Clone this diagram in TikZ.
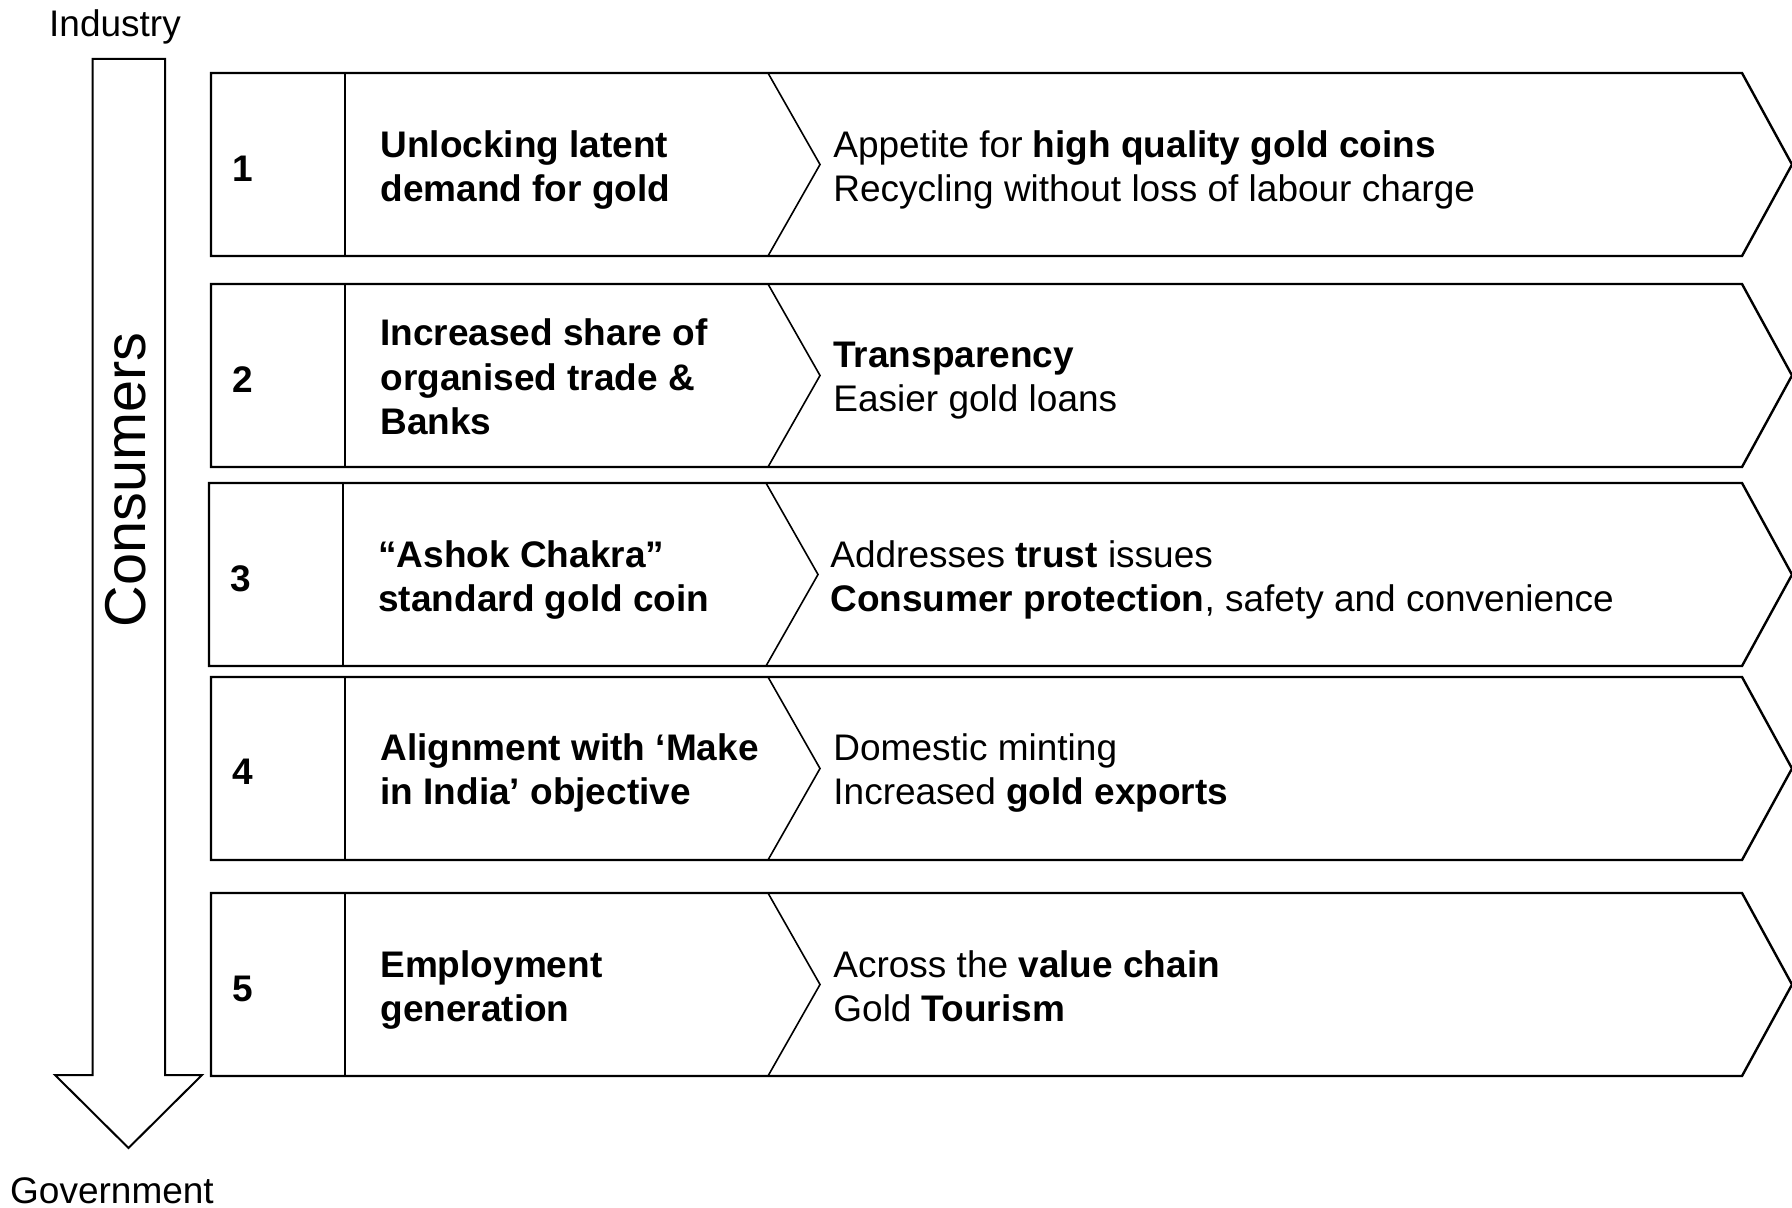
\documentclass[tikz,border=0pt]{standalone}
\usepackage{fontspec}
\setmainfont{Liberation Sans}

\begin{document}
\begin{tikzpicture}[
    x=0.5pt, y=-0.5pt,
    rowline/.style={line width=1.2pt, line join=miter},
    innerline/.style={line width=0.8pt},
    arrowline/.style={line width=1pt, line join=miter},
    numtext/.style={anchor=west, inner sep=0pt, font=\bfseries\fontsize{18.5}{22.2}\selectfont,
      execute at begin node=\strut},
    headtext/.style={anchor=west, inner sep=0pt, align=left, font=\bfseries\fontsize{18.5}{22.2}\selectfont,
      execute at begin node=\strut, execute at end node=\strut},
    gaintext/.style={headtext, font=\mdseries\fontsize{18.5}{22.2}\selectfont},
    endtext/.style={inner sep=0pt, font=\fontsize{18.5}{22.2}\selectfont},
]
\useasboundingbox (0,0) rectangle (1792,1208);

% Scale from industry down to government
\node (industry) [endtext] at (115,27) {Industry};
\node (government) [endtext] at (112,1191) {Government};
\draw [arrowline] (92.5,59) -- (165,59) -- (165,1075) -- (202,1075) -- (128.5,1148)
  -- (55,1075) -- (92.5,1075) -- cycle;
\node (consumers) [rotate=90, inner sep=0pt, font=\fontsize{28.8}{30}\selectfont] at (126,480) {Consumers};

% Row frames: number cell, heading cell, chevron
\foreach \t/\dx in {73/0, 284/0, 483/-2, 677/0, 893/0} {
  \draw [rowline] ({211+\dx},\t) -- (1742,\t) -- (1792,\t+91.5) -- (1742,\t+183) -- ({211+\dx},\t+183) -- cycle;
  \draw [innerline] ({345+\dx},\t) -- ({345+\dx},\t+183);
  \draw [innerline] ({768+\dx},\t) -- ({820+\dx},\t+91.5) -- ({768+\dx},\t+183);
}

% Row 1
\node (num1) [numtext] at (232,172.5) {1};
\node (head1) [headtext] at (380,172.5) {Unlocking latent\\demand for gold};
\node (gain1) [gaintext] at (833,172.5) {Appetite for \textbf{high quality gold coins}\\Recycling without loss of labour charge};

% Row 2
\node (num2) [numtext] at (232,383.5) {2};
\node (head2) [headtext] at (380,383.5) {Increased share of\\organised trade \&\\Banks};
\node (gain2) [gaintext] at (833,383.5) {\textbf{Transparency}\\Easier gold loans};

% Row 3
\node (num3) [numtext] at (230,582.5) {3};
\node (head3) [headtext] at (378,582.5) {“Ashok Chakra”\\standard gold coin};
\node (gain3) [gaintext] at (830,582.5) {Addresses \textbf{trust} issues\\\textbf{Consumer protection}, safety and convenience};

% Row 4
\node (num4) [numtext] at (232,775.5) {4};
\node (head4) [headtext] at (380,775.5) {Alignment with ‘Make\\in India’ objective};
\node (gain4) [gaintext] at (833,775.5) {Domestic minting\\Increased \textbf{gold exports}};

% Row 5
\node (num5) [numtext] at (232,992.5) {5};
\node (head5) [headtext] at (380,992.5) {Employment\\generation};
\node (gain5) [gaintext] at (833,992.5) {Across the \textbf{value chain}\\Gold \textbf{Tourism}};

\end{tikzpicture}
\end{document}
